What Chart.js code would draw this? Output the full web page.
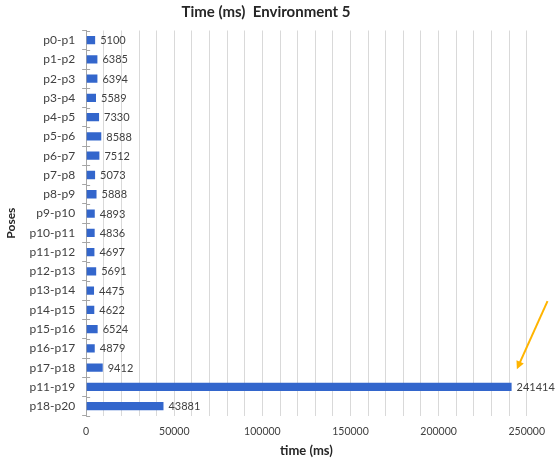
<!DOCTYPE html>
<html lang="en">
<head>
  <meta charset="UTF-8">
  <title>Time (ms) Environment 5</title>
  <script src="https://cdn.jsdelivr.net/npm/chart.js@4.4.1/dist/chart.umd.min.js"></script>
  <style>
    html, body { margin: 0; padding: 0; background: #fff; }
  </style>
</head>
<body>
  <canvas id="myChart" width="555" height="463"></canvas>
  <script>
    const poses = ['p0-p1', 'p1-p2', 'p2-p3', 'p3-p4', 'p4-p5', 'p5-p6', 'p6-p7', 'p7-p8', 'p8-p9', 'p9-p10',
      'p10-p11', 'p11-p12', 'p12-p13', 'p13-p14', 'p14-p15', 'p15-p16', 'p16-p17', 'p17-p18', 'p11-p19', 'p18-p20']
    const times = [5100, 6385, 6394, 5589, 7330, 8588, 7512, 5073, 5888, 4893,
      4836, 4697, 5691, 4475, 4622, 6524, 4879, 9412, 241414, 43881]
    // arrow annotation, in data units: [time, pose index]
    const arrowFrom = [261800, 13.55]
    const arrowTo = [244400, 17.08]

    const FONT = 'Lato, "Open Sans", sans-serif'
    const TEXT = '#404040'

    // value labels at the end of each bar
    const valueLabels = {
      id: 'valueLabels',
      afterDatasetsDraw(chart) {
        const ctx = chart.ctx
        const meta = chart.getDatasetMeta(0)
        ctx.save()
        ctx.font = '11px ' + FONT
        ctx.fillStyle = TEXT
        ctx.textAlign = 'left'
        ctx.textBaseline = 'middle'
        meta.data.forEach((bar, i) => {
          ctx.fillText(String(times[i]), bar.x + 5, bar.y + 0.5)
        })
        ctx.restore()
      }
    }

    // excel style cross tick marks on the category axis + the orange arrow
    const extras = {
      id: 'extras',
      afterDraw(chart) {
        const ctx = chart.ctx
        const x = chart.scales.x
        const y = chart.scales.y
        ctx.save()
        ctx.strokeStyle = '#A6A6A6'
        ctx.lineWidth = 1
        const x0 = x.getPixelForValue(0)
        for (let i = 0; i <= poses.length; i++) {
          const py = Math.round(y.getPixelForValue(i - 0.5)) + 0.5
          ctx.beginPath()
          ctx.moveTo(x0, py)
          ctx.lineTo(x0 + 4, py)
          ctx.stroke()
        }
        const ax = x.getPixelForValue(arrowFrom[0])
        const ay = y.getPixelForValue(arrowFrom[1])
        const bx = x.getPixelForValue(arrowTo[0])
        const by = y.getPixelForValue(arrowTo[1])
        const ang = Math.atan2(by - ay, bx - ax)
        ctx.strokeStyle = '#FFB400'
        ctx.fillStyle = '#FFB400'
        ctx.lineWidth = 2
        ctx.beginPath()
        ctx.moveTo(ax, ay)
        ctx.lineTo(bx - 5 * Math.cos(ang), by - 5 * Math.sin(ang))
        ctx.stroke()
        ctx.beginPath()
        ctx.moveTo(bx, by)
        ctx.lineTo(bx - 8 * Math.cos(ang) + 4 * Math.sin(ang), by - 8 * Math.sin(ang) - 4 * Math.cos(ang))
        ctx.lineTo(bx - 8 * Math.cos(ang) - 4 * Math.sin(ang), by - 8 * Math.sin(ang) + 4 * Math.cos(ang))
        ctx.closePath()
        ctx.fill()
        ctx.restore()
      }
    }

    const ctx = document.getElementById('myChart').getContext('2d')
    const chart = new Chart(ctx, {
      type: 'bar',
      data: {
        labels: poses,
        datasets: [{
          label: 'Time (ms)',
          data: times,
          backgroundColor: '#3366CC',
          borderWidth: 0,
          barPercentage: 0.43,
          categoryPercentage: 1
        }]
      },
      plugins: [valueLabels, extras],
      options: {
        indexAxis: 'y',
        responsive: false,
        animation: false,
        layout: {
          padding: { left: 4, right: 27, top: 0, bottom: 4 }
        },
        plugins: {
          legend: { display: false },
          tooltip: { enabled: false },
          title: {
            display: true,
            text: 'Time (ms)  Environment 5',
            color: '#262626',
            font: { family: FONT, size: 15, weight: 'bold' },
            padding: { top: 3, bottom: 9.5 }
          }
        },
        scales: {
          x: {
            min: 0,
            max: 250000,
            border: { display: false },
            grid: { color: '#D9D9D9', drawTicks: false },
            ticks: {
              stepSize: 10000,
              autoSkip: false,
              maxRotation: 0,
              padding: 10,
              color: TEXT,
              font: { family: FONT, size: 10.5 },
              callback: v => (v % 50000 === 0 ? v : '')
            },
            title: {
              display: true,
              text: 'time (ms)',
              color: '#262626',
              font: { family: FONT, size: 13, weight: 'bold' },
              padding: { top: -5, bottom: 0 }
            }
          },
          y: {
            border: { display: true, color: '#A6A6A6' },
            grid: { offset: true, drawOnChartArea: false, tickLength: 4, color: '#A6A6A6' },
            ticks: {
              padding: 7,
              color: TEXT,
              font: { family: FONT, size: 12 }
            },
            title: {
              display: true,
              text: 'Poses',
              color: '#262626',
              font: { family: FONT, size: 12, weight: 'bold' },
              padding: { top: 0, bottom: 4 }
            }
          }
        }
      }
    })
  </script>
</body>
</html>
